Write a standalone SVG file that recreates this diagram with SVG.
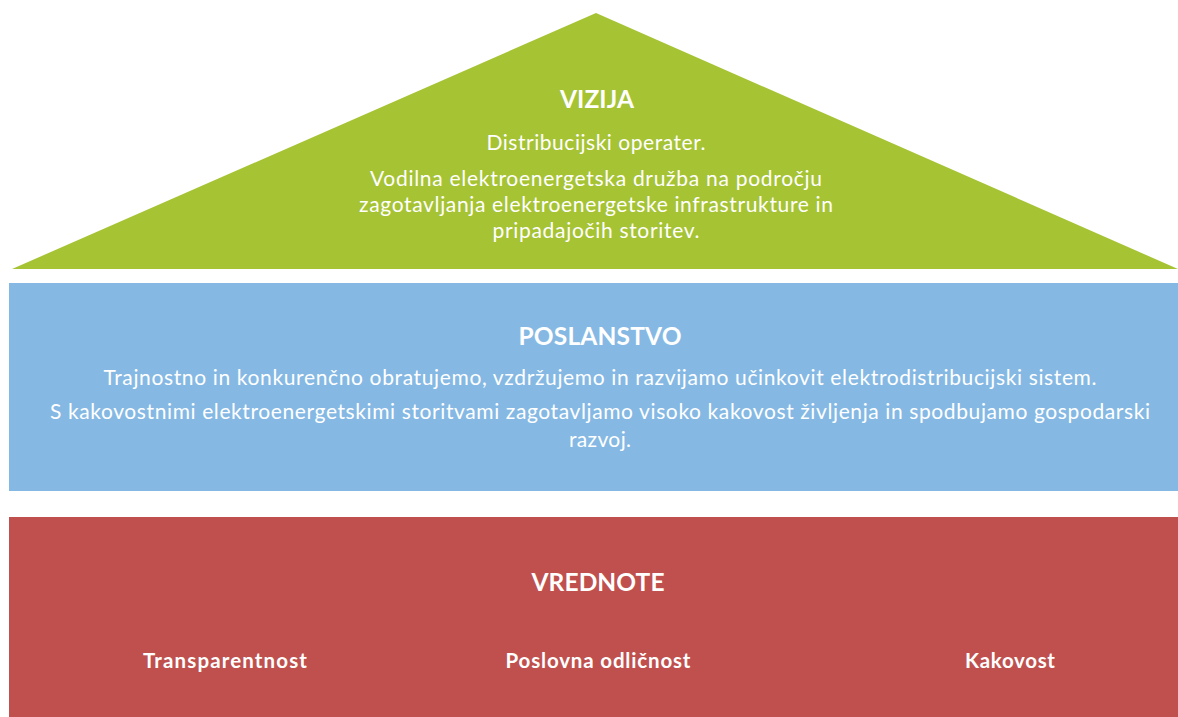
<svg xmlns="http://www.w3.org/2000/svg" width="1178" height="717" viewBox="0 0 1178 717">
<style>
.t{font-family:Lato,"Open Sans","Liberation Sans",sans-serif;fill:#ffffff;text-anchor:middle}
.h{font-size:24.5px;font-weight:bold}
.b{font-size:21px}
.v{font-size:20.5px;font-weight:bold}
</style>
<rect width="1178" height="717" fill="#ffffff"/>
<g id="vizija">
<polygon points="12,269 596,13 1178,269" fill="#A6C334"/>
<text class="t h" x="597" y="108" textLength="74">VIZIJA</text>
<text class="t b" x="596" y="150" textLength="219">Distribucijski operater.</text>
<text class="t b" x="596" y="186" textLength="452">Vodilna elektroenergetska družba na področju</text>
<text class="t b" x="596" y="212" textLength="474">zagotavljanja elektroenergetske infrastrukture in</text>
<text class="t b" x="596" y="238" textLength="207">pripadajočih storitev.</text>
</g>
<g id="poslanstvo">
<rect x="9" y="283" width="1169" height="208" fill="#85B9E4"/>
<text class="t h" x="600" y="345" textLength="163">POSLANSTVO</text>
<text class="t b" x="600" y="385" textLength="993">Trajnostno in konkurenčno obratujemo, vzdržujemo in razvijamo učinkovit elektrodistribucijski sistem.</text>
<text class="t b" x="600" y="419" textLength="1100">S kakovostnimi elektroenergetskimi storitvami zagotavljamo visoko kakovost življenja in spodbujamo gospodarski</text>
<text class="t b" x="600" y="447" textLength="62">razvoj.</text>
</g>
<g id="vrednote">
<rect x="9" y="517" width="1169" height="200" fill="#C0504D"/>
<text class="t h" x="598" y="591" textLength="133">VREDNOTE</text>
<text class="t v" x="225" y="668" textLength="164">Transparentnost</text>
<text class="t v" x="598" y="668" textLength="185">Poslovna odličnost</text>
<text class="t v" x="1010" y="668" textLength="90">Kakovost</text>
</g>
<g id="connectors"/>
</svg>
